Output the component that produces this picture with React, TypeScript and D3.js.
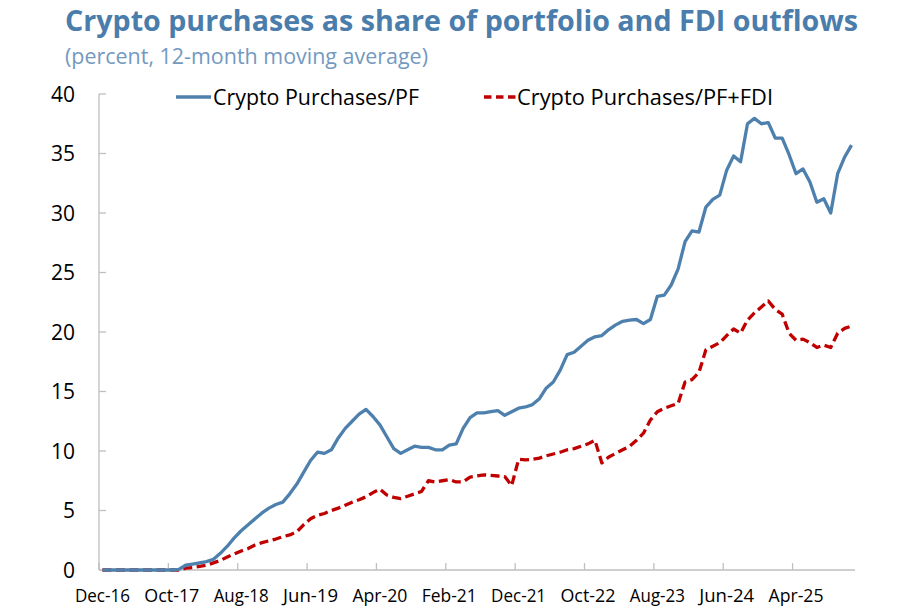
import React from 'react';
import { scaleLinear, line } from 'd3';

// monthly, Dec-16 .. Dec-25 (12-month moving average, percent)
const cryptoPF: number[] = [
  0, 0, 0, 0, 0, 0, 0, 0, 0, 0,
  0, 0.05, 0.4, 0.5, 0.6, 0.7, 0.9, 1.4, 2.0, 2.7,
  3.3, 3.8, 4.3, 4.8, 5.2, 5.5, 5.7, 6.4, 7.2, 8.2,
  9.2, 9.9, 9.8, 10.1, 11.1, 11.9, 12.5, 13.1, 13.5, 12.9,
  12.2, 11.2, 10.2, 9.8, 10.1, 10.4, 10.3, 10.3, 10.1, 10.1,
  10.5, 10.6, 11.9, 12.8, 13.2, 13.2, 13.3, 13.4, 13.0, 13.3,
  13.6, 13.7, 13.9, 14.4, 15.3, 15.8, 16.8, 18.1, 18.3, 18.8,
  19.3, 19.6, 19.7, 20.2, 20.6, 20.9, 21.0, 21.05, 20.7, 21.05,
  23.0, 23.1, 23.95, 25.3, 27.6, 28.5, 28.4, 30.5, 31.15, 31.5,
  33.6, 34.8, 34.3, 37.5, 37.95, 37.5, 37.6, 36.3, 36.3, 34.9,
  33.3, 33.7, 32.6, 30.9, 31.2, 30.0, 33.3, 34.7, 35.7,
];

const cryptoPFFDI: number[] = [
  0, 0, 0, 0, 0, 0, 0, 0, 0, 0,
  0, 0, 0.15, 0.2, 0.3, 0.4, 0.6, 0.8, 1.1, 1.35,
  1.6, 1.8, 2.1, 2.3, 2.45, 2.6, 2.8, 2.95, 3.2, 3.8,
  4.3, 4.6, 4.75, 5.0, 5.2, 5.45, 5.7, 5.9, 6.15, 6.5,
  6.8, 6.3, 6.1, 6.0, 6.2, 6.4, 6.6, 7.5, 7.4, 7.5,
  7.6, 7.4, 7.4, 7.8, 7.9, 8.0, 7.95, 7.9, 7.85, 7.1,
  9.3, 9.25, 9.3, 9.4, 9.6, 9.75, 9.9, 10.1, 10.2, 10.4,
  10.6, 10.9, 9.0, 9.5, 9.8, 10.1, 10.4, 10.9, 11.5, 12.6,
  13.3, 13.6, 13.8, 14.0, 15.8, 16.0, 16.6, 18.5, 18.8, 19.1,
  19.7, 20.25, 19.9, 21.0, 21.6, 22.1, 22.6, 21.9, 21.5, 19.9,
  19.3, 19.4, 19.1, 18.7, 18.9, 18.7, 19.9, 20.3, 20.5,
];

// one label every 10 months, starting Dec-16
const tickLabels = ['Dec-16', 'Oct-17', 'Aug-18', 'Jun-19', 'Apr-20', 'Feb-21', 'Dec-21', 'Oct-22', 'Aug-23', 'Jun-24', 'Apr-25'];
const yTicks = [0, 5, 10, 15, 20, 25, 30, 35, 40];

const seriesNames = ['Crypto Purchases/PF', 'Crypto Purchases/PF+FDI'];

const W = 909;
const H = 615;
const font = '"Open Sans", "Noto Sans", sans-serif';
const axisColor = '#bfbfbf';
const blue = '#4e80ad';
const red = '#c00000';

export default function App() {
  const n = cryptoPF.length;
  const x = scaleLinear().domain([0, n]).range([99, 855]);
  const y = scaleLinear().domain([0, 40]).range([570, 94]);

  const path = line<number>()
    .x((_, i) => x(i + 0.5))
    .y(d => y(d));

  return (
    <svg width={W} height={H} style={{ position: 'absolute', left: 0, top: 0, background: '#fff' }}>
      <text x={65} y={31} fontFamily={font} fontWeight={700} fontSize={29} fill="#4a7dab"
        textLength={793} lengthAdjust="spacingAndGlyphs">
        Crypto purchases as share of portfolio and FDI outflows
      </text>
      <text x={65} y={64} fontFamily={font} fontSize={21} fill="#7399bf"
        textLength={363} lengthAdjust="spacingAndGlyphs">
        (percent, 12-month moving average)
      </text>

      {/* y axis */}
      <line x1={x(0)} x2={x(0)} y1={y(40)} y2={y(0)} stroke={axisColor} strokeWidth={1.3} />
      {yTicks.map(t => (
        <g key={t}>
          <line x1={x(0)} x2={x(0) + 7} y1={y(t)} y2={y(t)} stroke={axisColor} strokeWidth={1.3} />
          <text x={75} y={y(t)} dy="0.36em" textAnchor="end" fontFamily={font} fontSize={21} fill="#000"
            textLength={String(t).length * 12} lengthAdjust="spacingAndGlyphs">{t}</text>
        </g>
      ))}

      {/* x axis */}
      <line x1={x(0)} x2={x(n)} y1={y(0)} y2={y(0)} stroke={axisColor} strokeWidth={1.3} />
      {tickLabels.map((lab, k) => (
        <g key={lab}>
          <line x1={x(k * 10)} x2={x(k * 10)} y1={y(0)} y2={y(0) - 7} stroke={axisColor} strokeWidth={1.3} />
          <text x={x(k * 10 + 0.5)} y={602} textAnchor="middle" fontFamily={font} fontSize={19} fill="#000"
            textLength={55} lengthAdjust="spacingAndGlyphs">{lab}</text>
        </g>
      ))}

      <path d={path(cryptoPFFDI) ?? ''} fill="none" stroke={red} strokeWidth={3.3} strokeDasharray="9,4.5" strokeLinejoin="round" />
      <path d={path(cryptoPF) ?? ''} fill="none" stroke={blue} strokeWidth={3.3} strokeLinejoin="round" />

      {/* legend */}
      <line x1={176} x2={211} y1={97} y2={97} stroke={blue} strokeWidth={3.3} />
      <text x={213} y={105} fontFamily={font} fontSize={21.5} fill="#000" textLength={206} lengthAdjust="spacingAndGlyphs">{seriesNames[0]}</text>
      <line x1={484} x2={516} y1={97} y2={97} stroke={red} strokeWidth={3.3} strokeDasharray="7.5,4.5" />
      <text x={517} y={105} fontFamily={font} fontSize={21.5} fill="#000" textLength={256} lengthAdjust="spacingAndGlyphs">{seriesNames[1]}</text>
    </svg>
  );
}
